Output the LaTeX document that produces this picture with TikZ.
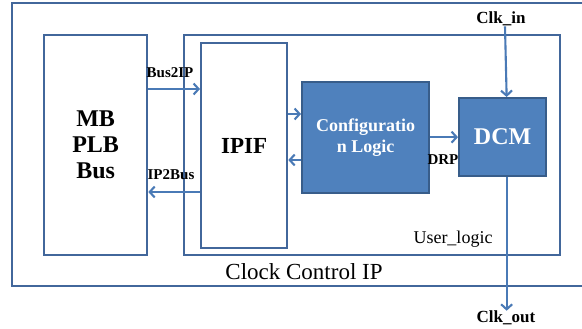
\documentclass[tikz,border=0pt]{standalone}
\usepackage{fontspec}
\setmainfont{Liberation Serif}
\usetikzlibrary{arrows.meta}
\definecolor{boxline}{RGB}{66,103,155}
\definecolor{boxfill}{RGB}{79,129,189}
\definecolor{fillline}{RGB}{56,93,138}
\definecolor{arrline}{RGB}{74,122,182}
\tikzset{
  blk/.style={draw=boxline,line width=2.3pt,anchor=north west,inner sep=0pt},
  fblk/.style={blk,draw=fillline,fill=boxfill,text=white},
  arr/.style={draw=arrline,line width=2.1pt,-{Straight Barb[length=5pt,width=11pt]}},
  sig/.style={inner sep=0pt,font=\fontsize{15}{15}\selectfont\bfseries}
}
\begin{document}
\begin{tikzpicture}[x=1pt,y=-1pt]
\useasboundingbox (0,0) rectangle (582,329);
% outer IP frame
\draw[boxline,line width=2.3pt] (582,3) -- (12,3) -- (12,286) -- (582,286);
\node (ipname) at (304,272) {\fontsize{23}{23}\selectfont Clock Control IP};
% blocks
\node[blk,minimum width=103pt,minimum height=220pt,align=center,
  font=\fontsize{24}{26}\selectfont\bfseries] (mb) at (43,34) {MB\\PLB\\Bus};
\node[blk,minimum width=376pt,minimum height=220pt] (user) at (183,34) {};
\node[blk,minimum width=86pt,minimum height=205pt,
  font=\fontsize{23}{23}\selectfont\bfseries] (ipif) at (200,42) {IPIF};
\node[fblk,minimum width=127pt,minimum height=111pt,align=center,
  font=\fontsize{18}{21}\selectfont\bfseries] (cfg) at (301,81) {Configuratio\\n Logic};
\node[fblk,minimum width=87pt,minimum height=78pt,
  font=\fontsize{24}{24}\selectfont\bfseries] (dcm) at (458,97) {DCM};
\node (ulabel) at (453,239) {\fontsize{18}{18}\selectfont User\_logic};
% signals
\node[sig] (b2ip) at (170,73) {Bus2IP};
\node[sig] (ip2b) at (171,175) {IP2Bus};
\node[sig] (drp) at (443,160) {DRP};
\node[sig,font=\fontsize{17}{17}\selectfont\bfseries] (clkin) at (501,19) {Clk\_in};
\node[sig,font=\fontsize{17}{17}\selectfont\bfseries] (clkout) at (506,318) {Clk\_out};
\draw[arr] (mb.east |- 0,89) -- (ipif.west |- 0,89);
\draw[arr] (ipif.west |- 0,192) -- (mb.east |- 0,192);
\draw[arr] (ipif.east |- 0,114) -- (cfg.west |- 0,114);
\draw[arr] (cfg.west |- 0,160) -- (ipif.east |- 0,160);
\draw[arr] (cfg.east |- dcm) -- (dcm.west);
\draw[arr] ([xshift=4pt]clkin.south) -- ([xshift=4pt]dcm.north);
\draw[arr] ([xshift=4pt]dcm.south) -- ([xshift=4pt]dcm.south |- clkout.north);
\end{tikzpicture}
\end{document}
